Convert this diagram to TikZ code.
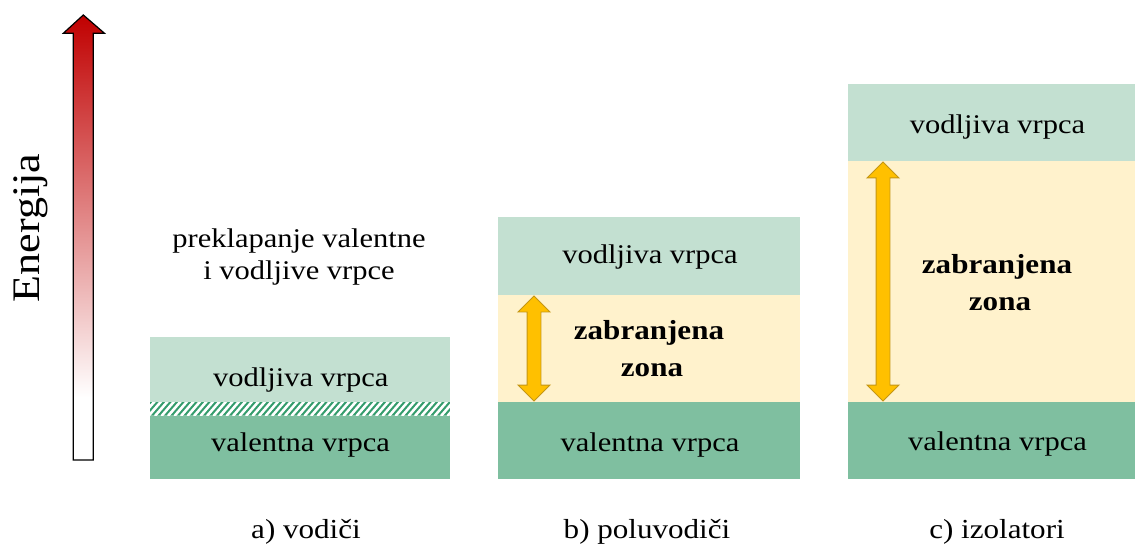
\documentclass[tikz,border=0pt]{standalone}
\usepackage{fontspec}
\setmainfont{Liberation Serif}[FakeStretch=1.13]
\usetikzlibrary{shapes.arrows}
\definecolor{condgreen}{RGB}{195,224,209}
\definecolor{valgreen}{RGB}{127,191,160}
\definecolor{gapyellow}{RGB}{255,242,204}
\definecolor{hatchgreen}{RGB}{52,156,108}
\definecolor{arrowgold}{RGB}{255,192,0}
\definecolor{arrowedge}{RGB}{196,150,20}
\definecolor{energyred}{RGB}{192,0,0}
\pgfdeclareverticalshading{energyshade}{100bp}{color(0bp)=(white); color(32bp)=(white); color(75bp)=(energyred); color(100bp)=(energyred)}
\begin{document}
\begin{tikzpicture}[x=1pt,y=-1pt,
  band/.style={draw=none, inner sep=0pt, anchor=north west},
  lbl/.style={inner sep=0pt, anchor=base, font=\fontsize{27}{32}\selectfont},
  boldlbl/.style={inner sep=0pt, anchor=base, font=\fontsize{27.5}{32}\selectfont\bfseries},
  caplbl/.style={inner sep=0pt, anchor=base, font=\fontsize{27.5}{32}\selectfont},
  gaparrow/.style={double arrow, rotate=90, draw=arrowedge, fill=arrowgold, line width=0.9pt,
    inner xsep=0pt, inner ysep=6.5pt, minimum width=31pt, double arrow head extend=9pt}]
\useasboundingbox (0,0) rectangle (1135,545);

% energy axis arrow
\shadedraw[shading=energyshade, draw=black, line width=1.2pt, line join=miter]
  (73.3,460) -- (73.3,33.3) -- (63.3,33.3) -- (83.3,15) -- (104.5,33.3) -- (93.3,33.3) -- (93.3,460) -- cycle;
\node[inner sep=0pt, anchor=base, rotate=90, font=\fontsize{39}{44}\selectfont] (energy) at (39.5,228) {Energija};

% panel a: conductors
\node[band, fill=condgreen, minimum width=300pt, minimum height=65pt] (a-cond) at (150,337) {};
\node[band, fill=hatchgreen, minimum width=300pt, minimum height=13pt] (a-over) at (150,402) {};
\node[band, fill=valgreen, minimum width=300pt, minimum height=64pt] (a-val) at (150,415) {};
\begin{scope}
  \clip (a-over.south west) rectangle (a-over.north east);
  \foreach \i in {0,...,48} \draw[white, line width=2.6pt] ({142+\i*6.5},416) -- ++(13,-15);
\end{scope}
\node[lbl] (a-cond-t) at (300.8,386.7) {vodljiva vrpca};
\node[lbl] (a-val-t) at (300.5,451.5) {valentna vrpca};
\node[lbl] (a-note1) at (299,247.3) {preklapanje valentne};
\node[lbl] (a-note2) at (299,279.3) {i vodljive vrpce};

% panel b: semiconductors
\node[band, fill=condgreen, minimum width=302pt, minimum height=78pt] (b-cond) at (498,217) {};
\node[band, fill=gapyellow, minimum width=302pt, minimum height=107pt] (b-gap) at (498,295) {};
\node[band, fill=valgreen, minimum width=302pt, minimum height=77pt] (b-val) at (498,402) {};
\node[lbl] (b-cond-t) at (650,263.3) {vodljiva vrpca};
\node[lbl] (b-val-t) at (650,451) {valentna vrpca};
\node[boldlbl] (b-gap-t1) at (649,339.3) {zabranjena};
\node[boldlbl] (b-gap-t2) at (652,376) {zona};
\node[gaparrow, minimum height=105pt] (b-arrow) at (534,348.5) {};

% panel c: insulators
\node[band, fill=condgreen, minimum width=287pt, minimum height=77pt] (c-cond) at (848,84) {};
\node[band, fill=gapyellow, minimum width=287pt, minimum height=241pt] (c-gap) at (848,161) {};
\node[band, fill=valgreen, minimum width=287pt, minimum height=77pt] (c-val) at (848,402) {};
\node[lbl] (c-cond-t) at (997.5,133.3) {vodljiva vrpca};
\node[lbl] (c-val-t) at (997.5,450.5) {valentna vrpca};
\node[boldlbl] (c-gap-t1) at (997,274) {zabranjena};
\node[boldlbl] (c-gap-t2) at (1000,310.7) {zona};
\node[gaparrow, minimum height=239pt] (c-arrow) at (883,281.5) {};

% captions
\node[caplbl] (cap-a) at (306,538) {a) vodiči};
\node[caplbl] (cap-b) at (647,538) {b) poluvodiči};
\node[caplbl] (cap-c) at (997,538) {c) izolatori};
\end{tikzpicture}
\end{document}
